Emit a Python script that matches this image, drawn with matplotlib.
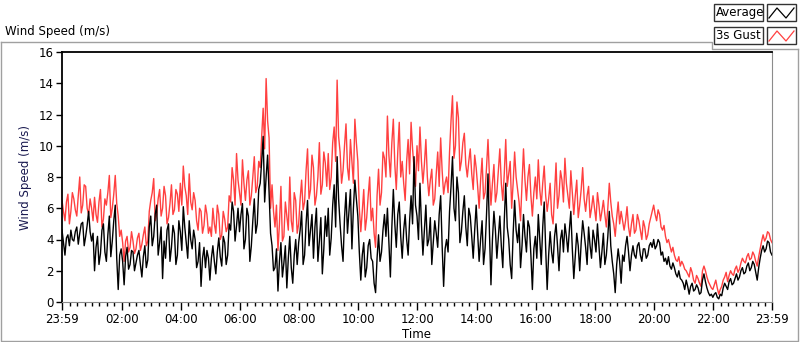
import numpy as np
import matplotlib.pyplot as plt
from matplotlib.lines import Line2D
from matplotlib.patches import Rectangle

plt.rcParams['font.family'] = ['DejaVu Sans']

# minutes after 23:59 of the previous day, one sample every 3 minutes
minutes = np.arange(0, 1441, 3)

# 3s gust (m/s), one row per hour
gust = [
    6.5, 5.8, 5.2, 6.4, 6.9, 5.0, 5.8, 7.0, 6.6, 5.9, 5.5, 6.8, 8.0, 5.7, 6.2, 7.5, 7.4, 6.0, 5.6, 6.6,
    6.0, 5.2, 6.7, 5.6, 5.1, 6.4, 7.2, 4.8, 5.3, 6.6, 6.2, 7.0, 8.1, 5.4, 6.0, 6.9, 8.1, 6.3, 5.5, 4.2,
    4.6, 3.8, 2.6, 3.9, 4.2, 3.2, 3.5, 4.5, 3.9, 3.1, 3.4, 4.1, 4.4, 3.3, 3.7, 4.3, 4.8, 3.6, 3.9, 5.8,
    6.5, 7.0, 7.9, 5.2, 5.6, 6.6, 7.2, 5.5, 6.0, 7.4, 6.8, 5.0, 5.4, 6.3, 7.5, 5.6, 5.9, 7.2, 6.9, 5.8,
    7.6, 6.2, 8.7, 7.4, 6.8, 5.6, 8.2, 6.4, 5.9, 7.0, 6.5, 5.2, 4.6, 6.0, 5.8, 4.4, 4.9, 6.2, 5.6, 4.4,
    4.8, 4.2, 6.0, 5.0, 4.4, 6.2, 5.6, 4.0, 4.3, 5.8, 5.3, 4.5, 4.8, 6.8, 6.4, 8.6, 7.8, 6.2, 9.5, 7.8,
    7.0, 6.2, 9.1, 7.6, 6.5, 7.8, 8.4, 6.2, 6.8, 8.0, 9.3, 7.0, 7.4, 9.0, 8.6, 10.6, 12.4, 9.8, 14.3, 11.6,
    10.5, 6.0, 7.5, 5.8, 4.8, 6.2, 3.3, 5.0, 7.4, 3.9, 4.2, 6.4, 5.5, 4.6, 8.0, 5.2, 4.5, 7.0, 6.5, 4.4,
    5.0, 6.6, 7.8, 5.9, 6.4, 8.4, 9.8, 6.6, 7.2, 9.4, 8.6, 6.2, 6.8, 8.0, 10.2, 6.9, 7.5, 9.6, 8.9, 7.4,
    9.5, 7.2, 8.0, 10.2, 11.2, 9.0, 14.2, 10.6, 9.6, 7.6, 8.4, 10.0, 11.4, 8.6, 7.8, 10.4, 9.0, 7.6, 11.7, 10.2,
    9.0, 6.0, 4.5, 5.8, 7.2, 4.6, 5.4, 6.8, 8.0, 5.2, 6.0, 4.4, 3.5, 6.8, 8.5, 6.2, 7.0, 9.6, 9.2, 8.0,
    11.9, 9.4, 8.0, 10.2, 11.7, 8.8, 7.2, 9.6, 11.5, 8.0, 9.0, 7.6, 6.5, 9.0, 10.4, 8.2, 11.5, 9.8, 8.6, 7.4,
    10.0, 8.4, 11.2, 9.0, 7.6, 8.8, 10.4, 8.0, 6.8, 7.8, 8.5, 6.2, 6.6, 8.2, 9.6, 7.4, 10.5, 8.4, 6.9, 7.6,
    8.0, 7.0, 9.6, 11.6, 13.2, 9.2, 10.0, 12.8, 11.8, 8.4, 9.0, 10.2, 10.8, 8.8, 8.0, 9.0, 9.8, 8.2, 7.2, 9.4,
    8.6, 7.4, 6.0, 7.8, 9.2, 6.6, 7.0, 8.6, 10.4, 8.0, 6.2, 7.6, 8.8, 6.4, 7.0, 8.4, 9.8, 7.6, 6.5, 8.2,
    10.4, 7.4, 8.2, 9.0, 6.0, 7.6, 9.6, 8.0, 7.2, 6.4, 5.2, 7.6, 9.8, 7.8, 6.5, 8.0, 8.8, 6.8, 5.5, 7.0,
    8.0, 6.6, 9.1, 7.2, 6.2, 7.6, 8.7, 6.8, 5.8, 6.6, 7.6, 5.6, 5.0, 7.0, 8.9, 6.0, 6.8, 8.4, 7.8, 6.4,
    9.2, 7.6, 6.8, 6.0, 8.4, 7.0, 5.6, 6.8, 7.8, 5.4, 6.2, 7.2, 8.6, 6.6, 5.8, 6.8, 7.4, 5.4, 6.0, 6.8,
    6.0, 5.2, 7.0, 6.2, 5.2, 5.8, 6.5, 5.6, 4.8, 6.0, 7.6, 6.4, 5.5, 5.0, 4.2, 5.4, 6.4, 5.0, 5.8, 5.2,
    4.6, 5.2, 6.1, 4.8, 4.2, 5.0, 5.6, 4.4, 4.6, 5.6, 5.2, 4.6, 4.0, 5.2, 4.8, 4.0, 4.3, 5.0, 5.4, 5.8,
    6.2, 5.6, 5.2, 5.9, 5.6, 4.8, 4.6, 4.9, 4.2, 3.8, 4.0, 3.6, 3.2, 3.5, 3.0, 2.7, 2.6, 2.9, 2.3, 2.6,
    2.4, 2.1, 2.0, 1.8, 1.6, 2.2, 1.9, 1.4, 1.2, 1.7, 1.5, 1.2, 1.0, 2.0, 2.3, 2.0, 1.6, 1.3, 1.1, 0.9,
    0.8, 1.1, 1.4, 0.9, 0.5, 0.8, 1.0, 1.4, 1.6, 1.9, 1.3, 1.7, 2.0, 1.8, 1.7, 2.1, 2.3, 1.9, 2.1, 2.5,
    2.8, 2.6, 2.5, 2.9, 3.1, 2.7, 2.8, 3.2, 3.0, 2.6, 2.3, 2.9, 3.4, 3.9, 4.3, 3.9, 4.1, 4.5, 4.4, 4.0,
    3.8,
]

# average wind speed (m/s)
avg = [
    4.6, 3.8, 3.0, 4.1, 4.3, 3.6, 4.6, 4.0, 3.9, 4.5, 4.8, 3.7, 4.4, 5.0, 5.1, 3.6, 4.2, 4.9, 5.8, 4.5,
    3.9, 4.4, 2.0, 3.5, 4.2, 2.4, 3.1, 4.6, 5.0, 3.2, 2.6, 4.3, 5.5, 2.9, 3.9, 5.2, 6.2, 2.8, 0.8, 3.0,
    3.4, 2.6, 1.1, 2.9, 3.5, 2.1, 2.4, 3.3, 3.2, 2.0, 2.5, 3.0, 3.3, 2.4, 1.6, 2.9, 3.6, 2.2, 2.7, 4.8,
    5.5, 3.6, 4.2, 5.6, 6.2, 3.0, 3.8, 4.8, 1.5, 3.9, 2.8, 4.6, 5.0, 2.6, 3.5, 4.9, 4.4, 2.4, 3.0, 5.2,
    4.5, 3.3, 6.1, 4.8, 3.8, 2.8, 5.2, 4.0, 3.4, 4.6, 4.0, 2.2, 2.6, 3.8, 1.0, 2.8, 3.5, 2.2, 3.3, 2.8,
    1.4, 2.8, 3.6, 2.6, 1.8, 3.2, 4.1, 2.9, 2.3, 4.2, 3.8, 2.4, 3.0, 5.0, 4.6, 6.4, 5.8, 3.9, 4.9, 6.0,
    4.5, 5.6, 6.3, 3.4, 4.0, 6.0, 5.5, 2.6, 3.6, 5.2, 6.6, 4.4, 5.0, 7.2, 7.6, 9.0, 10.6, 6.4, 8.0, 9.4,
    7.0, 4.4, 3.6, 2.0, 2.2, 3.4, 0.7, 2.6, 3.8, 1.6, 2.5, 3.6, 0.9, 2.8, 4.2, 2.2, 1.2, 3.0, 4.0, 2.4,
    3.8, 4.6, 5.8, 2.4, 3.0, 5.0, 6.5, 3.6, 4.6, 5.6, 2.8, 4.8, 6.0, 2.6, 3.9, 5.4, 1.8, 3.4, 5.5, 4.2,
    6.0, 3.0, 4.1, 6.2, 7.5, 4.8, 9.3, 6.6, 5.0, 3.6, 2.6, 5.4, 7.0, 4.4, 5.8, 7.2, 3.4, 6.0, 7.8, 6.6,
    5.5, 3.2, 1.4, 3.0, 3.8, 1.6, 2.2, 3.6, 4.0, 2.8, 2.6, 1.2, 0.6, 2.8, 4.3, 2.6, 3.2, 4.6, 5.6, 4.2,
    6.0, 3.8, 1.6, 4.8, 7.2, 5.0, 3.5, 5.6, 6.4, 4.2, 2.8, 4.6, 5.6, 4.0, 3.0, 5.2, 6.8, 5.0, 9.3, 6.2,
    5.5, 4.0, 7.6, 5.0, 3.0, 4.6, 6.2, 3.6, 4.0, 5.4, 2.4, 3.8, 5.2, 4.4, 3.5, 5.6, 6.8, 3.6, 1.0, 3.4,
    4.0, 3.2, 5.8, 7.4, 9.3, 6.0, 5.2, 8.0, 7.0, 3.8, 4.5, 5.8, 6.8, 4.8, 3.6, 6.0, 5.5, 4.2, 2.8, 4.6,
    6.2, 4.4, 2.6, 4.0, 5.2, 2.4, 3.4, 5.6, 8.2, 4.4, 1.1, 4.0, 5.8, 4.6, 2.8, 4.2, 5.5, 3.6, 2.2, 5.2,
    7.6, 4.8, 4.0, 2.4, 1.5, 4.4, 6.5, 4.6, 3.8, 5.0, 2.2, 3.6, 5.6, 4.2, 3.2, 5.2, 4.8, 3.0, 0.8, 3.4,
    4.2, 2.8, 5.6, 4.0, 2.4, 4.8, 6.4, 3.4, 0.8, 3.0, 4.5, 3.2, 2.5, 4.2, 5.0, 3.6, 2.0, 4.0, 4.6, 3.2,
    5.0, 4.2, 3.2, 4.6, 5.8, 3.4, 1.5, 3.0, 4.4, 3.6, 2.0, 3.8, 5.2, 4.4, 3.5, 2.4, 4.8, 3.6, 2.8, 4.6,
    4.0, 3.2, 5.0, 3.6, 2.2, 3.2, 4.4, 2.4, 3.0, 4.2, 5.8, 3.6, 2.6, 1.8, 0.6, 2.4, 3.4, 2.6, 1.2, 3.0,
    2.6, 3.6, 4.2, 3.2, 2.0, 3.0, 3.6, 3.0, 2.8, 3.6, 3.8, 3.0, 2.6, 3.4, 3.4, 2.8, 3.0, 3.6, 3.8, 3.5,
    4.0, 3.4, 3.6, 4.0, 3.8, 3.0, 3.2, 2.6, 2.8, 2.4, 2.9, 2.3, 2.1, 2.5, 2.2, 1.8, 1.6, 2.0, 1.5, 1.4,
    1.2, 0.8, 1.4, 1.0, 0.5, 1.0, 1.2, 0.7, 0.8, 1.1, 0.9, 0.5, 0.6, 1.4, 1.8, 1.3, 0.9, 0.6, 0.4, 0.5,
    0.3, 0.5, 0.6, 0.3, 0.2, 0.5, 0.4, 0.9, 1.2, 1.0, 0.8, 1.3, 1.5, 1.1, 1.2, 1.5, 1.8, 1.4, 1.6, 2.0,
    2.2, 1.8, 1.9, 2.3, 2.5, 2.0, 2.2, 2.6, 2.4, 1.9, 1.4, 2.2, 2.8, 3.3, 3.6, 3.2, 3.4, 3.9, 3.8, 3.2,
    3.0,
]

tick_minutes = [0, 121, 241, 361, 481, 601, 721, 841, 961, 1081, 1201, 1321, 1440]
tick_labels = ['23:59', '02:00', '04:00', '06:00', '08:00', '10:00', '12:00',
               '14:00', '16:00', '18:00', '20:00', '22:00', '23:59']

W, H = 800, 342
def fx(x):
    return x / W
def fy(y):
    return 1 - y / H

fig = plt.figure(figsize=(W / 100, H / 100), dpi=100)
fig.patch.set_facecolor('white')

ax = fig.add_axes([fx(62), fy(302), 710 / W, 250 / H])
ax.plot(minutes, gust, color='#ff4040', lw=1)
ax.plot(minutes, avg, color='black', lw=1)
ax.set_xlim(0, 1440)
ax.set_ylim(0, 16)

ax.spines['top'].set_color('black')
ax.spines['left'].set_color('black')
ax.spines['top'].set_linewidth(1.3)
ax.spines['left'].set_linewidth(1.3)
ax.spines['right'].set_color('#8c8c8c')
ax.spines['bottom'].set_color('#8c8c8c')

ax.set_yticks(range(0, 17, 2))
ax.tick_params(axis='y', length=4, width=1, labelsize=8.5, pad=2, colors='black')
ax.set_xticks(tick_minutes)
ax.set_xticklabels(tick_labels)
minor = [m for m in range(16, 1440, 15) if (m - 1) % 120 != 0]
ax.set_xticks(minor, minor=True)
ax.tick_params(axis='x', which='major', length=6, width=1, labelsize=8.5, pad=2)
ax.tick_params(axis='x', which='minor', length=3, width=1)
ax.set_xlabel('Time', fontsize=8.5, labelpad=1)
ax.set_ylabel('Wind Speed (m/s)', fontsize=8.5, color='#1a1a50', labelpad=5)

# outer panel frame
gray = '#a0a0a0'
for xs, ys in [([1, 712, 712, 798], [42, 42, 49, 49]),
               ([1, 1, 798, 798], [42, 341, 341, 49])]:
    fig.add_artist(Line2D([fx(v) for v in xs], [fy(v) for v in ys], color=gray, lw=1))

fig.text(fx(5), fy(31), 'Wind Speed (m/s)', fontsize=8.5, va='center', ha='left')

# legend
entries = [('Average', 'black', 4), ('3s Gust', '#ff4040', 27)]
for name, col, top in entries:
    fig.add_artist(Rectangle((fx(714), fy(top + 17)), 49 / W, 17 / H, fill=False,
                             ec='#333333', lw=1))
    fig.text(fx(716), fy(top + 8.5), name, fontsize=8.5, va='center', ha='left')
    fig.add_artist(Rectangle((fx(767), fy(top + 17)), 29 / W, 17 / H, fill=False,
                             ec='#333333', lw=1))
    zx = [769, 777, 786, 794]
    zy = [top + 14, top + 4, top + 14, top + 4]
    fig.add_artist(Line2D([fx(v) for v in zx], [fy(v) for v in zy], color=col, lw=0.9))

fig.savefig('out.png', dpi=100, facecolor='white')
